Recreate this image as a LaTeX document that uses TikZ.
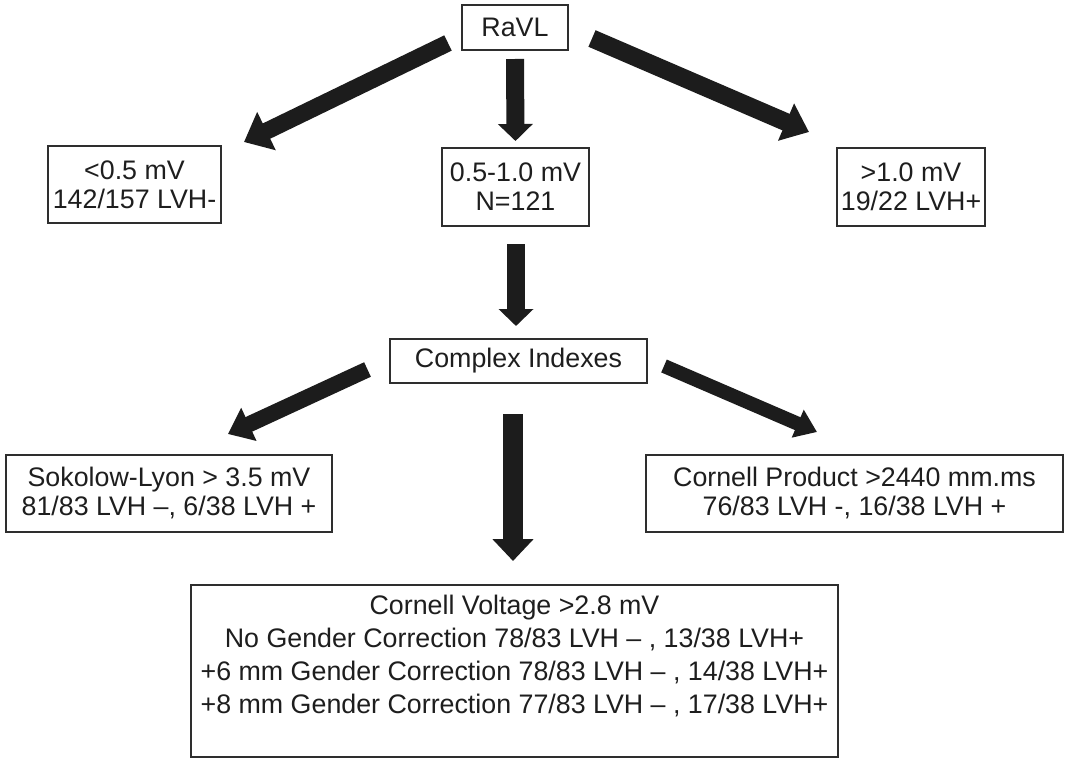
\documentclass[tikz,border=0pt]{standalone}
\usepackage{fontspec}
\setmainfont{Liberation Sans}
\usetikzlibrary{arrows.meta,calc}
\definecolor{ink}{HTML}{1C1C1C}
\definecolor{edge}{HTML}{2E2E2E}
\definecolor{txt}{HTML}{1E1E1E}
\begin{document}
\begin{tikzpicture}[x=1pt,y=-1pt,
  box/.style={draw=edge, line width=2pt, inner sep=0pt, align=center, text=txt,
    font=\fontsize{26.8}{29}\selectfont},
  bigbox/.style={box, font=\fontsize{26.8}{33}\selectfont},
  fatarrow/.style n args={3}{draw=ink, line width=#1, -{Triangle[length=#2, width=#3]}}]
\useasboundingbox (0,0) rectangle (1066,760);
\fill[white] (0,0) rectangle (1066,760);

% boxes
\node[box, minimum width=106pt, minimum height=45pt] (ravl) at (515,27.5) {RaVL};
\node[box, minimum width=173pt, minimum height=77pt] (low) at (134.5,184.5) {<0.5 mV\\142/157 LVH-};
\node[box, minimum width=147pt, minimum height=78pt] (mid) at (515.5,187) {0.5-1.0 mV\\N=121};
\node[box, minimum width=148pt, minimum height=78pt] (high) at (911,187) {>1.0 mV\\19/22 LVH+};
\node[box, minimum width=257pt, minimum height=44pt] (complex) at (518.5,361) {Complex Indexes};
\node[box, minimum width=326pt, minimum height=77pt] (sok) at (169,493.5) {Sokolow-Lyon > 3.5 mV\\81/83 LVH –, 6/38 LVH +};
\node[box, minimum width=417pt, minimum height=77pt] (prod) at (854.5,493.5) {Cornell Product >2440 mm.ms\\76/83 LVH -, 16/38 LVH +};
\node[bigbox, minimum width=647pt, minimum height=172pt] (volt) at (514.5,671) {Cornell Voltage >2.8 mV\\No Gender Correction 78/83 LVH – , 13/38 LVH+\\+6 mm Gender Correction 78/83 LVH – , 14/38 LVH+\\+8 mm Gender Correction 77/83 LVH – , 17/38 LVH+\\\mbox{}};

% arrows
\draw[fatarrow={17pt}{25pt}{41pt}] ($(ravl.west)+(-13,15.5)$) -- ($(low.north east)+(22,-3)$);
\draw[fatarrow={18pt}{25pt}{39pt}] ($(ravl.east)+(23,11)$) -- ($(high.north west)+(-27,-15)$);
\draw[fatarrow={18pt}{17pt}{34pt}] ($(ravl.south)+(0,8)$) -- ($(mid.north)+(0,-6)$);
\draw[fatarrow={18pt}{17pt}{34pt}] ($(mid.south)+(0.5,17)$) -- ($(mid.south |- complex.north)+(0.5,-12)$);
\draw[fatarrow={16pt}{23pt}{35pt}] ($(complex.west)+(-21.5,8.5)$) -- ($(sok.north)+(59,-20)$);
\draw[fatarrow={14pt}{21pt}{29pt}] ($(complex.east)+(16,5)$) -- ($(prod.north west)+(172,-22)$);
\draw[fatarrow={20pt}{22pt}{40pt}] ($(volt.north |- complex.south)+(-1.5,30)$) -- ($(volt.north)+(-1.5,-23)$);
\end{tikzpicture}
\end{document}
